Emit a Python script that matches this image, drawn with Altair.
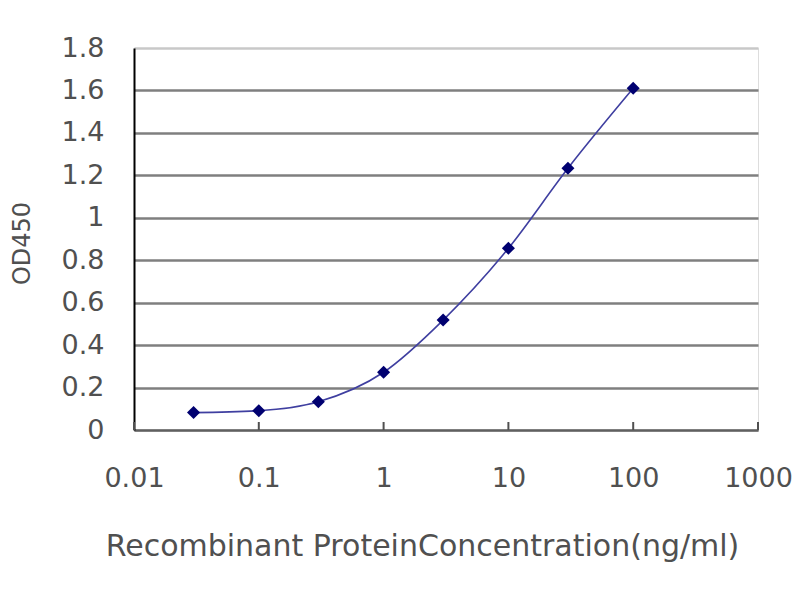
import altair as alt
import pandas as pd

# Data
concentration = [0.03, 0.1, 0.3, 1, 3, 10, 30, 100]
od450 = [0.082, 0.091, 0.133, 0.272, 0.518, 0.856, 1.233, 1.61]
x_ticks = [0.01, 0.1, 1, 10, 100, 1000]
y_ticks = [0, 0.2, 0.4, 0.6, 0.8, 1, 1.2, 1.4, 1.6, 1.8]

df = pd.DataFrame({"conc": concentration, "od": od450})
ticks_df = pd.DataFrame({"conc": x_ticks})

FONT = "DejaVu Sans"
TXT = "#505050"

xscale = alt.Scale(type="log", domain=[0.01, 1000])
yscale = alt.Scale(domain=[0, 1.8], nice=False)

xaxis = alt.Axis(
    values=x_ticks, format="~g", grid=False,
    domainColor="#606060", domainWidth=2, ticks=False,
    labelFont=FONT, labelFontSize=27, labelColor=TXT, labelPadding=35,
    labelFlush=False, labelOverlap=False,
    title="Recombinant ProteinConcentration(ng/ml)",
    titleFont=FONT, titleFontSize=30, titleFontWeight="normal", titleColor=TXT,
    titleX=288, titleY=125, titleAlign="center", titleBaseline="alphabetic",
)
yaxis = alt.Axis(
    values=y_ticks, format="~g",
    grid=True, gridColor={"condition": {"test": "datum.value >= 1.8", "value": "#c8c8c8"}, "value": "#7f7f7f"},
    gridWidth=2.5,
    domainColor="#000000", domainWidth=2, ticks=False,
    labelFont=FONT, labelFontSize=27, labelColor=TXT, labelPadding=30,
    labelFlush=False, labelOverlap=False,
    title="OD450",
    titleFont=FONT, titleFontSize=24, titleFontWeight="normal", titleColor=TXT,
    titleAngle=270, titleX=-112, titleY=195, titleAlign="center", titleBaseline="middle",
)

base = alt.Chart(df)

line = base.mark_line(interpolate="monotone", color="#3f3fa0", strokeWidth=1.6).encode(
    x=alt.X("conc:Q", scale=xscale, axis=xaxis),
    y=alt.Y("od:Q", scale=yscale, axis=yaxis),
)
points = base.mark_point(shape="diamond", filled=True, color="#000070", size=170, opacity=1).encode(
    x=alt.X("conc:Q", scale=xscale),
    y=alt.Y("od:Q", scale=yscale),
)
tick_marks = alt.Chart(ticks_df).mark_rule(color="#505050", strokeWidth=2).encode(
    x=alt.X("conc:Q", scale=xscale),
    y=alt.value(382),
    y2=alt.value(374),
)

chart = alt.layer(tick_marks, line, points).properties(
    width=624, height=382,
    autosize=alt.AutoSizeParams(type="none"),
    padding={"left": 126, "top": 40, "right": 34, "bottom": 162},
).configure_view(stroke="#bbbbbb", strokeWidth=2).configure(background="white")

chart.save("out.html", embed_options={"renderer": "svg", "actions": False})
